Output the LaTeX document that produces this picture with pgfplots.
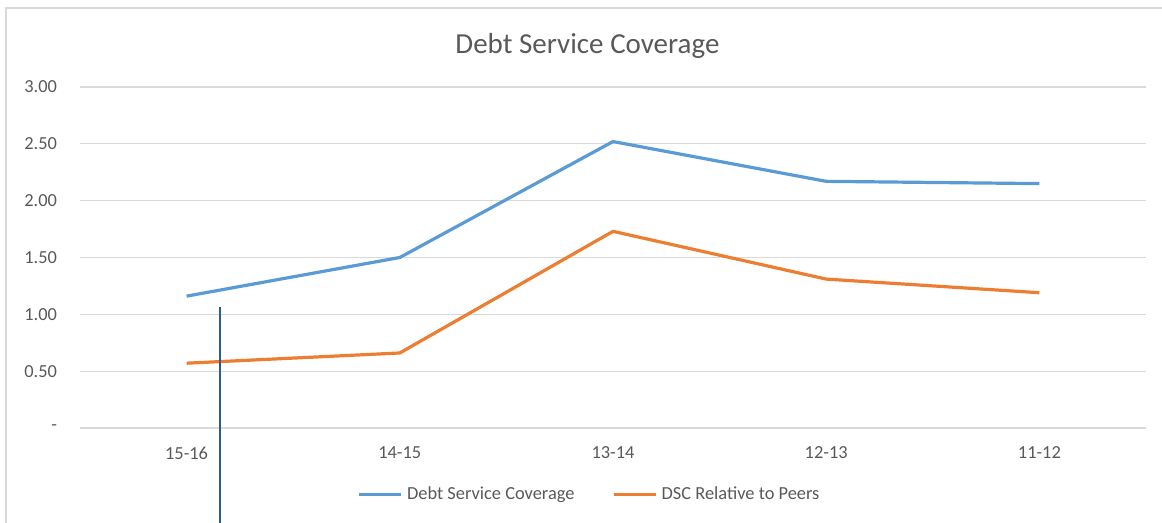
\documentclass[border=0pt]{standalone}
\usepackage{pgfplots}
\pgfplotsset{compat=1.18}
\usepackage{fontspec}
\setmainfont{Carlito}
\definecolor{dscblue}{HTML}{5B9BD5}
\definecolor{dscorange}{HTML}{ED7D31}
\definecolor{txtgrey}{HTML}{595959}
\definecolor{gridgrey}{HTML}{D9D9D9}
\definecolor{strayblue}{HTML}{2F5A8C}
\begin{document}
\begin{tikzpicture}
\useasboundingbox (-40pt,-47.5pt) rectangle (541pt,214pt);
\draw[gridgrey, line width=1pt] (-37pt,-48pt) -- (-37pt,210pt) -- (542pt,210pt);
\begin{axis}[
  scale only axis,
  width=533pt, height=170.5pt,
  xmin=-0.5, xmax=4.5, ymin=0, ymax=3,
  axis lines=none,
  clip=false,
  ytick={0,0.5,1,1.5,2,2.5,3},
  xtick={0,1,2,3,4},
  /pgf/number format/assume math mode=true,
  font=\fontsize{9}{11}\selectfont,
  legend columns=2,
  legend style={draw=none, fill=none, at={(0.479,-0.196)}, anchor=center,
    font=\fontsize{9.2}{11}\selectfont\color{txtgrey},
    /tikz/every even column/.append style={column sep=17pt}},
  legend image code/.code={\draw[#1] (0pt,0pt) -- (21pt,0pt);},
]
% gridlines
\foreach \yv in {0.5,1,1.5,2,2.5,3} {
  \edef\tmp{\noexpand\draw[gridgrey, line width=0.6pt] (axis cs:-0.5,\yv) -- (axis cs:4.5,\yv);}\tmp
}
\draw[gridgrey, line width=0.8pt] (axis cs:-0.5,0) -- (axis cs:4.5,0);
% tick labels
\foreach \yv/\lab in {0/{-},0.5/0.50,1/1.00,1.5/1.50,2/2.00,2.5/2.50,3/3.00} {
  \edef\tmp{\noexpand\node[anchor=east, text=txtgrey, font=\noexpand\fontsize{9.2}{11}\noexpand\selectfont] at (axis cs:-0.5,\yv) [xshift=-8pt] {\lab};}\tmp
}
\foreach \xv/\lab in {0/15-16,1/14-15,2/13-14,3/12-13,4/11-12} {
  \edef\tmp{\noexpand\node[text=txtgrey, font=\noexpand\fontsize{9.2}{11}\noexpand\selectfont] at (axis cs:\xv,0) [yshift=-12.5pt] {\lab};}\tmp
}
\node[text=txtgrey, font=\fontsize{14.5}{17}\selectfont] at (axis cs:1.88,3) [yshift=20.5pt] {Debt Service Coverage};
\addplot[dscblue, line width=1.6pt] coordinates {(0,1.16) (1,1.50) (2,2.52) (3,2.17) (4,2.15)};
\addlegendentry{Debt Service Coverage}
\addplot[dscorange, line width=1.6pt] coordinates {(0,0.57) (1,0.66) (2,1.73) (3,1.31) (4,1.19)};
\addlegendentry{DSC Relative to Peers}
\addplot[strayblue, line width=1pt, forget plot] coordinates {(0.155,1.064) (0.155,-0.84)};
\end{axis}
\end{tikzpicture}
\end{document}
